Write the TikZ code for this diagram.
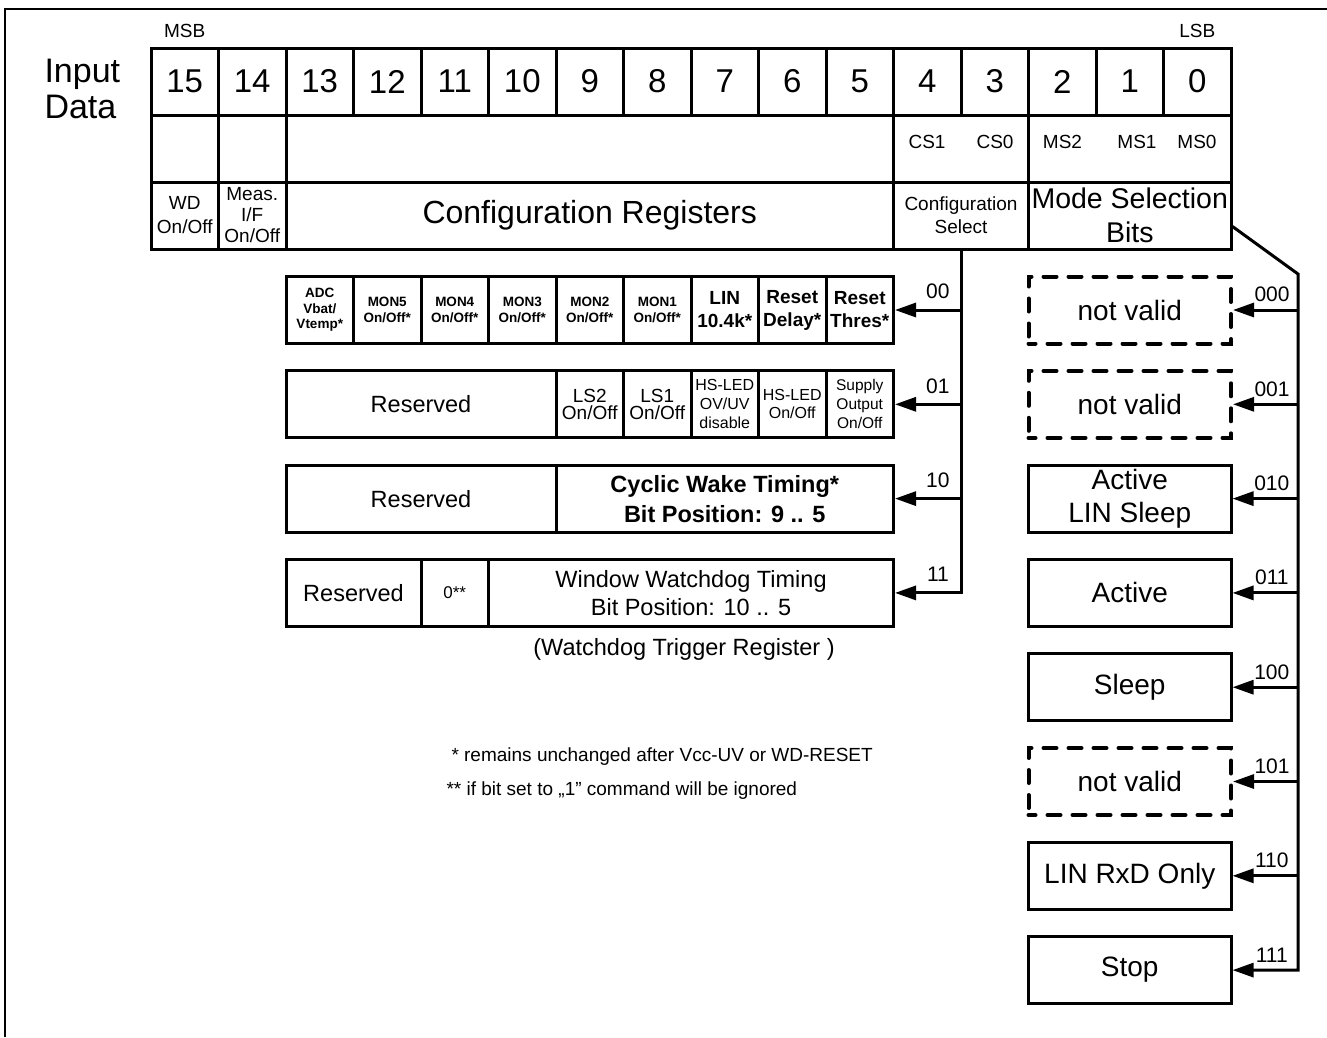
\documentclass[tikz,border=0pt]{standalone}
\usepackage{fontspec}
\setmainfont{Liberation Sans}
\usetikzlibrary{positioning,arrows.meta}

\begin{document}
\begin{tikzpicture}[x=1pt, y=-1pt, line width=3pt,
  every node/.style={align=center, inner sep=0pt},
  cell/.style={draw, minimum width=#1, minimum height=67pt}, cell/.default=67.5pt,
  modebox/.style={cell=202.5pt, font=\fontsize{28}{33}\selectfont},
  nvalid/.style={modebox, line width=4pt, dash pattern=on 13pt off 12pt, dash phase=6pt, line cap=round},
  arr/.style={-{Triangle[length=21pt,width=14pt]}},
  lbl/.style={font=\fontsize{21}{21}\selectfont, inner sep=1pt, above=#1}, lbl/.default=5.5pt,
  fbit/.style={font=\fontsize{33}{36}\selectfont},
  fbig/.style={font=\fontsize{32}{36}\selectfont},
  freg/.style={font=\fontsize{23.5}{#1}\selectfont}, freg/.default=28pt,
  fsmall/.style={font=\fontsize{19}{#1}\selectfont}, fsmall/.default=23pt,
  fbold/.style={font=\fontsize{19}{23}\selectfont\bfseries},
  ftiny/.style={font=\fontsize{16}{#1}\selectfont}, ftiny/.default=19pt,
  fmon/.style={font=\fontsize{13.5}{15.5}\selectfont\bfseries}]
  \useasboundingbox (0,0) rectangle (1327,1037);
  \draw[line width=2pt] (5,1037) -- (5,9) -- (1327,9);

  \node[font=\fontsize{34}{36}\selectfont, align=left, anchor=west] (inp) at (43,89) {Input\\Data};
  \foreach \b in {0,...,15}
    \node[cell, fbit] (b\b) at ({1197.25-67.5*\b},81.5) {\b};
  \node[fsmall, above=7pt of b15.north] (msb) {MSB};
  \node[fsmall, above=7pt of b0.north] (lsb) {LSB};

  \node[cell] (s15) at (184.75,148.5) {};
  \node[cell] (s14) at (252.25,148.5) {};
  \node[cell=607.5pt] (sreg) at (589.75,148.5) {};
  \node[cell=135pt] (scs) at (961,148.5) {};
  \node[cell=202.5pt] (sms) at (1129.75,148.5) {};
  \node[fsmall] (cs1) at (927,141.5) {CS1};
  \node[fsmall] (cs0) at (995,141.5) {CS0};
  \node[fsmall] (ms2) at (1062.5,141.5) {MS2};
  \node[fsmall] (ms1) at (1137,141.5) {MS1};
  \node[fsmall] (ms0) at (1197,141.5) {MS0};

  \node[cell, fsmall=24pt] (wd) at (184.75,215.5) {WD\\On/Off};
  \node[cell, fsmall=21pt] (meas) at (252.25,215.5) {Meas.\\I/F\\On/Off};
  \node[cell=607.5pt, fbig] (cfgreg) at (589.75,215.5) {Configuration Registers};
  \node[cell=135pt, fsmall] (cfgsel) at (961,215.5) {Configuration\\Select};
  \node[cell=202.5pt, font=\fontsize{28.5}{34}\selectfont] (msbits) at (1129.75,215.5) {Mode Selection\\Bits};

  \node[cell, fmon] (adc) at (319.75,310) {ADC\\Vbat/\\Vtemp*};
  \node[cell, fmon] (mon5) at (387.25,310) {MON5\\On/Off*};
  \node[cell, fmon] (mon4) at (454.75,310) {MON4\\On/Off*};
  \node[cell, fmon] (mon3) at (522.25,310) {MON3\\On/Off*};
  \node[cell, fmon] (mon2) at (589.75,310) {MON2\\On/Off*};
  \node[cell, fmon] (mon1) at (657.25,310) {MON1\\On/Off*};
  \node[cell, fbold] (lin) at (724.75,310) {LIN\\10.4k*};
  \node[cell, fbold] (rdelay) at (792.25,310) {Reset\\Delay*};
  \node[cell, fbold] (rthres) at (859.75,310) {Reset\\Thres*};

  \node[cell=270pt, freg] (res1) at (421,404.3) {Reserved};
  \node[cell, fsmall=17pt] (ls2) at (589.75,404.3) {LS2\\On/Off};
  \node[cell, fsmall=17pt] (ls1) at (657.25,404.3) {LS1\\On/Off};
  \node[cell, ftiny] (hsov) at (724.75,404.3) {HS-LED\\OV/UV\\disable};
  \node[cell, ftiny=18pt] (hsled) at (792.25,404.3) {HS-LED\\On/Off};
  \node[cell, font=\fontsize{15.5}{19}\selectfont] (supply) at (859.75,404.3) {Supply\\Output\\On/Off};

  \node[cell=270pt, freg] (res2) at (421,498.6) {Reserved};
  \node[cell=337.5pt, font=\fontsize{23.5}{30}\selectfont\bfseries] (cyclic) at (724.75,498.6) {Cyclic Wake Timing*\\Bit Position: 9 .. 5};

  \node[cell=135pt, freg] (res3) at (353.5,592.9) {Reserved};
  \node[cell, font=\fontsize{17}{20}\selectfont] (zero) at (454.75,592.9) {0**};
  \node[cell=405pt, freg] (wwd) at (691,592.9) {Window Watchdog Timing\\Bit Position: 10 .. 5};
  \node[freg, below=9pt of wwd.south, xshift=-7pt] (wtr) {(Watchdog Trigger Register )};

  \node[nvalid] (m000) at (1129.75,310) {not valid};
  \node[nvalid] (m001) at (1129.75,404.3) {not valid};
  \node[modebox] (m010) at (1129.75,498.6) {Active\\LIN Sleep};
  \node[modebox] (m011) at (1129.75,592.9) {Active};
  \node[modebox] (m100) at (1129.75,687.2) {Sleep};
  \node[nvalid] (m101) at (1129.75,781.5) {not valid};
  \node[modebox] (m110) at (1129.75,875.8) {LIN RxD Only};
  \node[modebox] (m111) at (1129.75,970.1) {Stop};

  \draw[arr] (cfgsel.south) -- (cfgsel.south |- wwd.east) -- node[lbl=8.5pt, pos=0.35] {11} (wwd.east);
  \foreach \n/\c in {rthres/00, supply/01, cyclic/10}
    \draw[arr] (cfgsel.south |- \n.east) -- node[lbl=8.5pt, pos=0.35] {\c} (\n.east);

  \coordinate (mbend) at (1298,274);
  \draw[arr] ([yshift=-11pt]msbits.east) -- (mbend) -- (mbend |- m111.east) -- node[lbl, pos=0.4] {111} (m111.east);
  \foreach \m in {000,001,010,011,100,101,110}
    \draw[arr] (mbend |- m\m.east) -- node[lbl, pos=0.4] {\m} (m\m.east);

  \node[fsmall, anchor=west] (fn1) at (450,757) {* remains unchanged after Vcc-UV or WD-RESET};
  \node[fsmall, anchor=west] (fn2) at (445,791) {** if bit set to „1" command will be ignored};
\end{tikzpicture}
\end{document}
